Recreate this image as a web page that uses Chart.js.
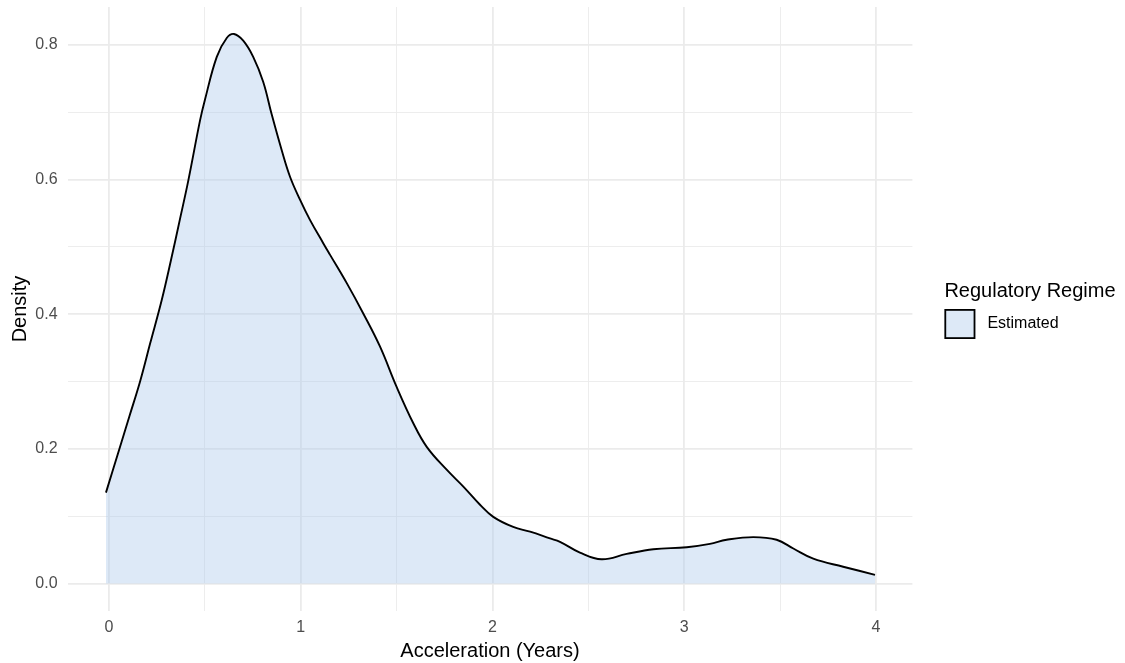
<!DOCTYPE html>
<html lang="en">
<head>
    <meta charset="UTF-8">
    <title>Acceleration density</title>
    <script src="https://cdn.jsdelivr.net/npm/chart.js"></script>
    <style>
        body { margin: 0; background: #fff; }
        #wrap { width: 1125px; height: 663px; }
    </style>
</head>
<body>

<div id="wrap">
    <canvas id="density-chart" width="1125" height="663"></canvas>
</div>

<script>
    // density curve
    const accelYears = [-0.016, 0.05, 0.106, 0.162, 0.215, 0.275, 0.323, 0.37, 0.414, 0.475, 0.50, 0.562, 0.614, 0.652,
        0.700, 0.752, 0.804, 0.848, 0.900, 0.944, 0.996, 1.048, 1.118, 1.153, 1.240, 1.326, 1.413, 1.500, 1.587,
        1.657, 1.761, 1.848, 1.935, 2.004, 2.108, 2.196, 2.300, 2.352, 2.456, 2.569, 2.700, 2.839, 3.013, 3.134,
        3.221, 3.360, 3.482, 3.569, 3.673, 3.829, 3.995];
    const densityValues = [0.135, 0.196, 0.248, 0.300, 0.357, 0.421, 0.480, 0.541, 0.599, 0.688, 0.718, 0.782, 0.810, 0.816,
        0.806, 0.782, 0.745, 0.697, 0.644, 0.604, 0.570, 0.540, 0.505, 0.488, 0.446, 0.401, 0.352, 0.292, 0.238,
        0.203, 0.169, 0.144, 0.117, 0.099, 0.084, 0.077, 0.067, 0.062, 0.046, 0.036, 0.044, 0.051, 0.054, 0.059,
        0.065, 0.069, 0.065, 0.052, 0.037, 0.025, 0.013];
    const xTickLabels = [0, 1, 2, 3, 4];
    const yTickLabels = [0.0, 0.2, 0.4, 0.6, 0.8];
    const seriesLabel = 'Estimated';
    const legendTitle = 'Regulatory Regime';

    const fillColor = 'rgba(170, 200, 235, 0.4)';
    const fontFamily = '"Liberation Sans", Arial, Helvetica, sans-serif';

    const isLabelTick = (v, list) => list.some(t => Math.abs(t - v) < 1e-6);

    const legendPlugin = {
        id: 'regimeLegend',
        afterDraw(chart) {
            const ctx = chart.ctx;
            const x = chart.chartArea.right + 32;
            ctx.save();
            ctx.fillStyle = '#000';
            ctx.font = '20px ' + fontFamily;
            ctx.textBaseline = 'alphabetic';
            ctx.textAlign = 'left';
            ctx.fillText(legendTitle, x, 297);

            ctx.fillStyle = fillColor;
            ctx.fillRect(x, 309, 31, 30);
            ctx.strokeStyle = '#000';
            ctx.lineWidth = 1.8;
            ctx.strokeRect(x + 0.9, 309.9, 29.2, 28.2);

            ctx.fillStyle = '#000';
            ctx.font = '16px ' + fontFamily;
            ctx.textBaseline = 'middle';
            ctx.fillText(seriesLabel, x + 43, 324);
            ctx.restore();
        }
    };

    const ctx = document.getElementById('density-chart').getContext('2d');
    new Chart(ctx, {
        type: 'line',
        data: {
            datasets: [{
                label: seriesLabel,
                data: accelYears.map((x, i) => ({ x: x, y: densityValues[i] })),
                borderColor: '#000',
                borderWidth: 1.9,
                backgroundColor: fillColor,
                fill: 'origin',
                pointRadius: 0,
                tension: 0.4
            }]
        },
        options: {
            responsive: false,
            animation: false,
            layout: { padding: { top: 7, right: 212.6, bottom: 0, left: 0 } },
            plugins: {
                legend: { display: false },
                tooltip: { enabled: false }
            },
            scales: {
                x: {
                    type: 'linear',
                    min: -0.216,
                    max: 4.19,
                    afterFit: scale => {
                        scale.height = 52;
                        scale.paddingLeft = 0;
                        scale.paddingRight = 0;
                    },
                    border: { display: false },
                    grid: {
                        drawTicks: false,
                        color: '#EBEBEB',
                        lineWidth: c => isLabelTick(c.tick.value, xTickLabels) ? 1.8 : 0.9
                    },
                    ticks: {
                        stepSize: 0.5,
                        includeBounds: false,
                        autoSkip: false,
                        maxRotation: 0,
                        padding: 7,
                        color: '#4D4D4D',
                        font: { family: fontFamily, size: 16 },
                        callback: v => isLabelTick(v, xTickLabels) ? String(Math.round(v)) : ''
                    },
                    title: {
                        display: true,
                        text: 'Acceleration (Years)',
                        color: '#000',
                        font: { family: fontFamily, size: 20 },
                        padding: { top: 0, bottom: 0 }
                    }
                },
                y: {
                    min: -0.04075,
                    max: 0.856,
                    afterFit: scale => {
                        scale.width = 67.6;
                        scale.paddingTop = 0;
                        scale.paddingBottom = 0;
                    },
                    border: { display: false },
                    grid: {
                        drawTicks: false,
                        color: '#EBEBEB',
                        lineWidth: c => isLabelTick(c.tick.value, yTickLabels) ? 1.8 : 0.9
                    },
                    ticks: {
                        stepSize: 0.1,
                        includeBounds: false,
                        autoSkip: false,
                        padding: 10,
                        color: '#4D4D4D',
                        font: { family: fontFamily, size: 16 },
                        callback: v => isLabelTick(v, yTickLabels) ? v.toFixed(1) : ''
                    },
                    title: {
                        display: true,
                        text: 'Density',
                        color: '#000',
                        font: { family: fontFamily, size: 20 },
                        padding: { top: 8, bottom: 0 }
                    }
                }
            }
        },
        plugins: [legendPlugin]
    });
</script>

</body>
</html>
